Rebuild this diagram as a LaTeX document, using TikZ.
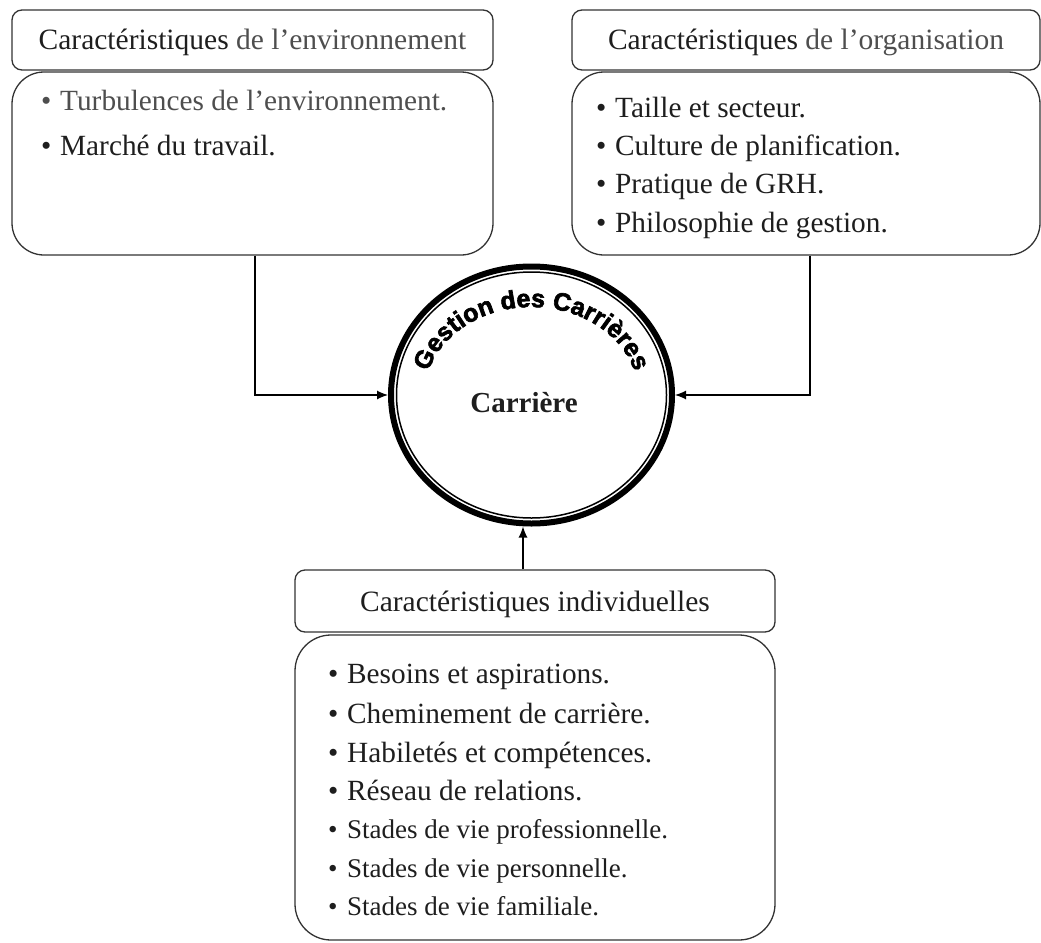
\documentclass[tikz,border=0pt]{standalone}
\usepackage{fontspec}
\setmainfont{Liberation Serif}
\newfontfamily\gestfont[FakeBold=2.5]{Liberation Sans Bold}
\usetikzlibrary{shapes.geometric,decorations.text,arrows.meta}

\definecolor{txt}{HTML}{1E1E1E}
\definecolor{txtlight}{HTML}{4E4E4E}
\definecolor{boxline}{HTML}{333333}

% bullet followed by a fixed gap before the item text
\newcommand\itembul{\makebox[19pt][l]{•}}

\begin{document}
\begin{tikzpicture}[x=1pt,y=1pt,
  headbox/.style={draw=boxline, line width=1.3pt, rounded corners=10pt,
    inner sep=0pt, text height=20pt, text depth=0pt, text=txt,
    font=\fontsize{29.5}{30}\selectfont},
  bodybox/.style={draw=boxline, line width=1.3pt, rounded corners=32pt, inner sep=0pt},
  item/.style={anchor=base west, inner sep=0pt, text=txt,
    font=\fontsize{29.3}{30}\selectfont},
  smallitem/.style={item, font=\fontsize{27}{28}\selectfont},
  conn/.style={line width=1.2pt, draw=black, -{Latex[length=11pt,width=9pt]}}]

\useasboundingbox (0,0) rectangle (1041,-942);

% ---- environment ----
\node[headbox, minimum width=481pt, minimum height=60pt] (envhead) at (252.5,-40)
  {Caractéristiques {\color{txtlight}de l'environnement}};
\node[bodybox, minimum width=481pt, minimum height=183pt] (envbody) at (252.5,-163.5) {};
\node[item, text=txtlight] (env1) at (41,-110) {\itembul Turbulences de l'environnement.};
\node[item] (env2) at (41,-155) {\itembul Marché du travail.};

% ---- organisation ----
\node[headbox, minimum width=468pt, minimum height=60pt] (orghead) at (806,-40)
  {Caractéristiques {\color{txtlight}de l'organisation}};
\node[bodybox, minimum width=468pt, minimum height=183pt] (orgbody) at (806,-163.5) {};
\node[item] (org1) at (596,-117)   {\itembul Taille et secteur.};
\node[item] (org2) at (596,-155)   {\itembul Culture de planification.};
\node[item] (org3) at (596,-193.5) {\itembul Pratique de GRH.};
\node[item] (org4) at (596,-232)   {\itembul Philosophie de gestion.};

% ---- central ring ----
\node[draw=black, line width=6pt, ellipse, minimum width=281pt, minimum height=257pt,
  inner sep=0pt] (gc) at (531.5,-395) {};
\draw[line width=1.5pt] (gc.center) ellipse [x radius=135pt, y radius=123pt];
\path[decorate, decoration={text along path, text align=center,
    text={|\gestfont\fontsize{25}{26}\selectfont|Gestion des Carrières}}]
  (gc.center) ++(178:107pt and 88pt)
  arc[start angle=178, end angle=2, x radius=107pt, y radius=88pt];
\node[anchor=base, inner sep=0pt, text=txt, font=\bfseries\fontsize{29}{30}\selectfont]
  (car) at (524,-412) {Carrière};

% ---- individual ----
\node[headbox, minimum width=480pt, minimum height=62pt] (indhead) at (535,-601)
  {Caractéristiques individuelles};
\node[bodybox, rounded corners=36pt, minimum width=480pt, minimum height=305pt]
  (indbody) at (535,-787.5) {};
\node[item] (ind1) at (328,-683) {\itembul Besoins et aspirations.};
\node[item] (ind2) at (328,-723) {\itembul Cheminement de carrière.};
\node[item] (ind3) at (328,-762) {\itembul Habiletés et compétences.};
\node[item] (ind4) at (328,-800) {\itembul Réseau de relations.};
\node[smallitem] (ind5) at (328,-838) {\itembul Stades de vie professionnelle.};
\node[smallitem] (ind6) at (328,-877) {\itembul Stades de vie personnelle.};
\node[smallitem] (ind7) at (328,-915) {\itembul Stades de vie familiale.};

% ---- connectors ----
\draw[conn] ([xshift=2.5pt]envbody.south) |- (gc.west);
\draw[conn] ([xshift=4pt]orgbody.south) |- (gc.east);
\draw[conn] ([xshift=-12pt]indhead.north) -- ([xshift=-12pt]indhead.north |- gc.south);

\end{tikzpicture}
\end{document}
